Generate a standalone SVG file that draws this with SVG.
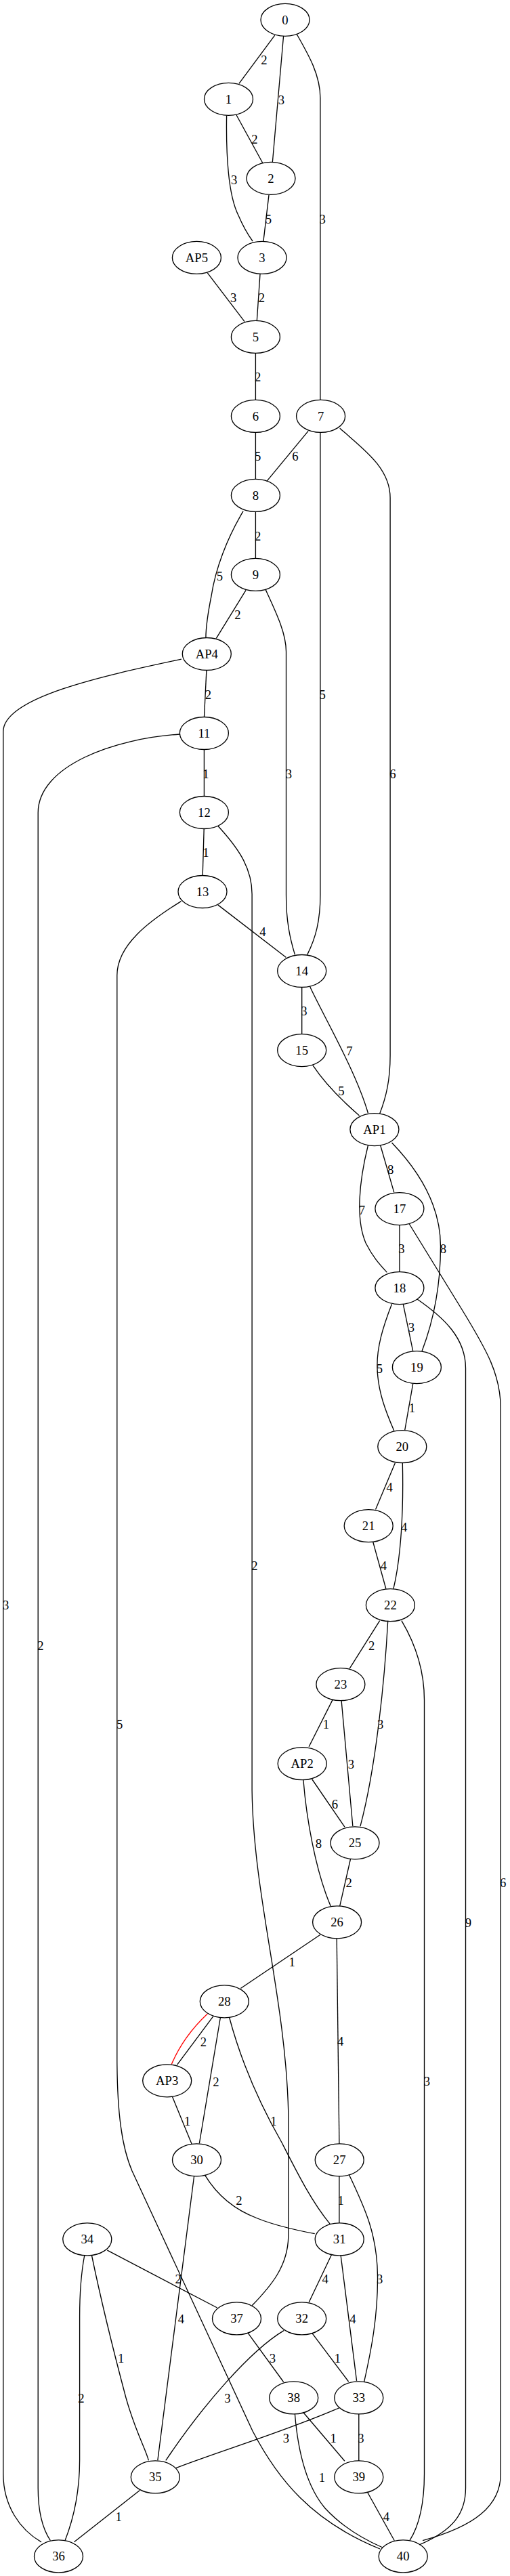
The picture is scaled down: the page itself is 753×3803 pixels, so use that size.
<svg xmlns="http://www.w3.org/2000/svg" width="753" height="3803" viewBox="0 0 753 3803">
<style>
.node ellipse{fill:none;stroke:#000;stroke-width:1.33}
.node text{font-family:"Liberation Serif","Times New Roman",serif;font-size:18.67px;text-anchor:middle;fill:#000}
.edges path{fill:none;stroke:#000;stroke-width:1.33}
.edges path.red{stroke:#ff0000}
.edges text{font-family:"Liberation Serif","Times New Roman",serif;font-size:18.67px;text-anchor:middle;fill:#000}
</style>
<rect x="0" y="0" width="753" height="3803" fill="#fff"/>
<g id="edges" class="edges">
<path d="M405.7,52.2 L352.9,123.3"/><text x="389.8" y="95.2">2</text>
<path d="M418.6,53 L402.3,240"/><text x="415.3" y="154.2">3</text>
<path d="M437.8,49.8 C455,80 472.9,110 472.9,145 L472.9,590.4"/><text x="476.2" y="329.5">3</text>
<path d="M349,169.8 L387.9,240.8"/><text x="375.9" y="212.2">2</text>
<path d="M334.6,170.6 C333.5,240 338,290 352,318 C358,332 365,345 373,356"/><text x="345.7" y="271.5">3</text>
<path d="M397,287.8 L388.9,356.3"/><text x="396.5" y="329.5">5</text>
<path d="M306.3,402.9 L361,474.7"/><text x="344.7" y="446.2">3</text>
<path d="M384,404.9 L379.3,473.5"/><text x="386.5" y="446.2">2</text>
<path d="M377.4,521.4 L377.4,590.4"/><text x="380.7" y="563.2">2</text>
<path d="M377.4,638.4 L377.4,707.4"/><text x="380.7" y="680.2">5</text>
<path d="M455.1,636.3 L393.7,710.6"/><text x="435.9" y="680.2">6</text>
<path d="M472.9,638.4 L472.9,1321 C472.9,1360 466,1385 453.7,1409.4"/><text x="476.2" y="1031.5">5</text>
<path d="M501.7,632.2 C535,662 576.1,690 576.1,735 L576.1,1558 C576.1,1595 570,1620 560.7,1644.1"/><text x="580" y="1148.6">6</text>
<path d="M377.4,755.4 L377.4,824.4"/><text x="380.7" y="797.6">2</text>
<path d="M359.1,754.7 C335,795 318,840 312,880 C306,910 304,925 303.9,941.5"/><text x="324.5" y="856.8">5</text>
<path d="M363,871.4 L319.3,942.4"/><text x="351" y="914.4">2</text>
<path d="M392.2,870.6 C408,905 422.5,935 422.5,962 L422.5,1321 C422.5,1360 428,1385 435.4,1409.4"/><text x="426.3" y="1148.6">3</text>
<path d="M304.9,989.4 L301.5,1058.5"/><text x="307.3" y="1031.5">2</text>
<path d="M267.9,973.1 C150,998 4.8,1030 4.8,1080 L4.8,3652 C4.8,3700 30,3735 61,3752.8"/><text x="8.6" y="2376.4">3</text>
<path d="M301.4,1106.5 L301.4,1175.5"/><text x="303.9" y="1148.6">1</text>
<path d="M265.5,1084 C170,1090 56.2,1130 56.2,1200 L56.2,3673 C56.2,3710 64,3735 74.4,3750.7"/><text x="60" y="2435.6">2</text>
<path d="M301.2,1223.5 L299.2,1292.5"/><text x="303.9" y="1264.6">1</text>
<path d="M321.7,1219.2 C350,1250 372.1,1280 372.1,1320 L372.1,2643 C374,2800 422,2950 425.8,3120 L425.8,3300 C425.8,3345 400,3375 372.1,3403.8"/><text x="375.9" y="2318.4">2</text>
<path d="M321.7,1335.9 L422.5,1413.5"/><text x="387.9" y="1382.1">4</text>
<path d="M267.4,1330.6 C220,1360 172.8,1395 172.8,1440 L172.8,3040 C173,3120 180,3170 195,3205 L373,3589 C410,3660 460,3722 561,3763"/><text x="176.7" y="2551.5">5</text>
<path d="M445.7,1457.5 L445.7,1526.6"/><text x="448.9" y="1499.2">3</text>
<path d="M457.5,1456.3 C475,1495 525,1580 543.4,1643.3"/><text x="516" y="1558.4">7</text>
<path d="M461.8,1572.7 C480,1600 505,1625 530.5,1646.9"/><text x="504" y="1616.8">5</text>
<path d="M561.7,1691 L581.8,1760.4"/><text x="576.6" y="1733.2">8</text>
<path d="M543.4,1691 C530,1745 525,1800 540,1835 C550,1855 560,1866 571.3,1878.4"/><text x="534.3" y="1793.2">7</text>
<path d="M578.5,1687 C620,1730 650.5,1780 650.5,1840 C650.5,1900 640,1950 623,1994.7"/><text x="654.4" y="1850.2">8</text>
<path d="M589.9,1808.6 L589.9,1877.6"/><text x="592.9" y="1850.2">3</text>
<path d="M604,1806.5 L680,1930 C720,1995 739.3,2030 739.3,2080 L739.3,3652 C739.3,3700 700,3730 624.1,3750.7"/><text x="742.7" y="2786.2">6</text>
<path d="M595.3,1925.3 L609.7,1994.7"/><text x="607.3" y="1966.2">3</text>
<path d="M578.5,1925.3 C565,1960 556,1990 557,2020 C558,2055 570,2085 581.8,2112.2"/><text x="560.3" y="2026.6">5</text>
<path d="M616,1918 C655,1945 687.5,1975 687.5,2020 L687.5,3673 C687.5,3710 670,3735 619.3,3756.9"/><text x="691.3" y="2844.6">9</text>
<path d="M609.7,2042.9 L597.7,2111.4"/><text x="608.3" y="2084.6">1</text>
<path d="M583.3,2160 L554.5,2228.6"/><text x="575.1" y="2201.7">4</text>
<path d="M594.3,2160 C596,2230 592,2300 580.9,2345.7"/><text x="596.7" y="2260.9">4</text>
<path d="M550.7,2276.3 L569.9,2345.7"/><text x="566.5" y="2318.4">4</text>
<path d="M560.7,2392.7 L516.1,2463.3"/><text x="548.7" y="2435.6">2</text>
<path d="M572.7,2392.7 C568,2480 555,2610 531.9,2696.3"/><text x="561.7" y="2551.5">3</text>
<path d="M592.9,2392.7 C615,2430 626.5,2470 626.5,2510 L626.5,3652 C626.5,3700 618,3730 604.9,3750.7"/><text x="630.3" y="3078.9">3</text>
<path d="M504.1,2510.6 L520.9,2696.3"/><text x="518.5" y="2610.7">3</text>
<path d="M491.1,2509.4 L456.1,2578.8"/><text x="481.5" y="2551.5">1</text>
<path d="M460.9,2627 L508.9,2697.1"/><text x="494.5" y="2669.9">6</text>
<path d="M447.9,2627.8 C452,2680 465,2760 488.2,2813.9"/><text x="470.5" y="2728.2">8</text>
<path d="M517.5,2744.5 L501.7,2813.9"/><text x="515.1" y="2786.2">2</text>
<path d="M472.9,2856.3 L355.3,2935.5"/><text x="431.1" y="2903.3">1</text>
<path d="M497.2,2861.6 L500.9,3164.8"/><text x="502.6" y="3020.1">4</text>
<path class="red" d="M306.3,2973 C285,2993 265,3020 253.3,3047.5"/>
<path d="M314.9,2976.7 L261.6,3048.2"/><text x="300.5" y="3020.9">2</text>
<path d="M325.5,2978 L294.3,3164.5"/><text x="319" y="3079.5">2</text>
<path d="M338.5,2978 C355,3040 380,3100 416,3163 C440,3210 460,3250 487.3,3283.4"/><text x="404" y="3137.9">1</text>
<path d="M254.5,3095.5 L283,3165"/><text x="276.7" y="3137.9">1</text>
<path d="M302.5,3211.2 C320,3240 345,3262 380,3275 C410,3287 440,3293 464.7,3297.7"/><text x="352.9" y="3254.9">2</text>
<path d="M286.6,3212.5 L232.8,3632.4"/><text x="267.4" y="3430.4">4</text>
<path d="M500.9,3212.8 L500.9,3282"/><text x="503.1" y="3254.9">1</text>
<path d="M515.1,3210 C540,3262 556.9,3300 557.5,3360 C558,3420 548,3470 537.7,3516"/><text x="560.7" y="3371.2">3</text>
<path d="M158.4,3322.2 L320.7,3407"/><text x="263.1" y="3371.2">2</text>
<path d="M135.4,3329.5 C150,3400 170,3480 186,3540 C200,3590 215,3615 219.4,3632.4"/><text x="178.6" y="3487.6">1</text>
<path d="M124.8,3329.5 C119,3360 117.6,3390 117.6,3420 L117.6,3632 C117.6,3680 108,3720 96,3750.7"/><text x="120" y="3546.8">2</text>
<path d="M489.7,3328.3 L456.1,3399"/><text x="480.1" y="3371.2">4</text>
<path d="M503.1,3329.5 L526.6,3514.8"/><text x="520.9" y="3430.4">4</text>
<path d="M365.8,3443.8 L418.6,3516.5"/><text x="402.3" y="3487.6">3</text>
<path d="M460.9,3444.6 L514.6,3516"/><text x="498.3" y="3487.6">1</text>
<path d="M419.1,3440.6 C370,3470 300,3550 244.8,3632.4"/><text x="336" y="3546.8">3</text>
<path d="M447.4,3561 L508.9,3633.2"/><text x="492.1" y="3605.9">1</text>
<path d="M435.4,3563.8 C440,3620 452,3670 480,3703 C505,3730 535,3748 565,3761"/><text x="475.3" y="3664.3">1</text>
<path d="M500.7,3554.8 C420,3590 320,3620 259.2,3643.8"/><text x="422.5" y="3605.9">3</text>
<path d="M529.8,3563.9 L529.8,3632.9"/><text x="532.9" y="3605.9">3</text>
<path d="M206.4,3676.5 L109.5,3752.8"/><text x="175.2" y="3722.2">1</text>
<path d="M542.5,3679.3 L582.3,3750.7"/><text x="570.3" y="3722.2">4</text>
</g>
<g id="n0" class="node"><ellipse cx="421" cy="29.3" rx="36" ry="24"/><text x="421" y="35.5">0</text></g>
<g id="n1" class="node"><ellipse cx="337.5" cy="146.3" rx="36" ry="24"/><text x="337.5" y="152.5">1</text></g>
<g id="n2" class="node"><ellipse cx="400" cy="263.3" rx="36" ry="24"/><text x="400" y="269.5">2</text></g>
<g id="nAP5" class="node"><ellipse cx="290.4" cy="380.4" rx="36" ry="24"/><text x="290.4" y="386.6">AP5</text></g>
<g id="n3" class="node"><ellipse cx="387" cy="380.4" rx="36" ry="24"/><text x="387" y="386.6">3</text></g>
<g id="n5" class="node"><ellipse cx="377.4" cy="497.4" rx="36" ry="24"/><text x="377.4" y="503.6">5</text></g>
<g id="n6" class="node"><ellipse cx="377.4" cy="614.4" rx="36" ry="24"/><text x="377.4" y="620.6">6</text></g>
<g id="n7" class="node"><ellipse cx="473.6" cy="614.4" rx="36" ry="24"/><text x="473.6" y="620.6">7</text></g>
<g id="n8" class="node"><ellipse cx="377.4" cy="731.4" rx="36" ry="24"/><text x="377.4" y="737.6">8</text></g>
<g id="n9" class="node"><ellipse cx="377.4" cy="848.4" rx="36" ry="24"/><text x="377.4" y="854.6">9</text></g>
<g id="nAP4" class="node"><ellipse cx="305.3" cy="965.5" rx="36" ry="24"/><text x="305.3" y="971.7">AP4</text></g>
<g id="n11" class="node"><ellipse cx="301.4" cy="1082.5" rx="36" ry="24"/><text x="301.4" y="1088.7">11</text></g>
<g id="n12" class="node"><ellipse cx="301.4" cy="1199.5" rx="36" ry="24"/><text x="301.4" y="1205.7">12</text></g>
<g id="n13" class="node"><ellipse cx="299" cy="1316.5" rx="36" ry="24"/><text x="299" y="1322.7">13</text></g>
<g id="n14" class="node"><ellipse cx="445.7" cy="1433.5" rx="36" ry="24"/><text x="445.7" y="1439.7">14</text></g>
<g id="n15" class="node"><ellipse cx="445.7" cy="1550.6" rx="36" ry="24"/><text x="445.7" y="1556.8">15</text></g>
<g id="nAP1" class="node"><ellipse cx="552.9" cy="1667.6" rx="36" ry="24"/><text x="552.9" y="1673.8">AP1</text></g>
<g id="n17" class="node"><ellipse cx="589.9" cy="1784.6" rx="36" ry="24"/><text x="589.9" y="1790.8">17</text></g>
<g id="n18" class="node"><ellipse cx="589.9" cy="1901.6" rx="36" ry="24"/><text x="589.9" y="1907.8">18</text></g>
<g id="n19" class="node"><ellipse cx="615.4" cy="2018.6" rx="36" ry="24"/><text x="615.4" y="2024.8">19</text></g>
<g id="n20" class="node"><ellipse cx="593.8" cy="2135.7" rx="36" ry="24"/><text x="593.8" y="2141.9">20</text></g>
<g id="n21" class="node"><ellipse cx="544.2" cy="2252.7" rx="36" ry="24"/><text x="544.2" y="2258.9">21</text></g>
<g id="n22" class="node"><ellipse cx="576.4" cy="2369.7" rx="36" ry="24"/><text x="576.4" y="2375.9">22</text></g>
<g id="n23" class="node"><ellipse cx="502.9" cy="2486.7" rx="36" ry="24"/><text x="502.9" y="2492.9">23</text></g>
<g id="nAP2" class="node"><ellipse cx="446.2" cy="2603.7" rx="36" ry="24"/><text x="446.2" y="2609.9">AP2</text></g>
<g id="n25" class="node"><ellipse cx="524" cy="2720.8" rx="36" ry="24"/><text x="524" y="2727">25</text></g>
<g id="n26" class="node"><ellipse cx="497.6" cy="2837.8" rx="36" ry="24"/><text x="497.6" y="2844">26</text></g>
<g id="n28" class="node"><ellipse cx="331.3" cy="2954.8" rx="36" ry="24"/><text x="331.3" y="2961">28</text></g>
<g id="nAP3" class="node"><ellipse cx="246.7" cy="3071.8" rx="36" ry="24"/><text x="246.7" y="3078">AP3</text></g>
<g id="n30" class="node"><ellipse cx="290.5" cy="3188.8" rx="36" ry="24"/><text x="290.5" y="3195">30</text></g>
<g id="n27" class="node"><ellipse cx="501.2" cy="3188.8" rx="36" ry="24"/><text x="501.2" y="3195">27</text></g>
<g id="n34" class="node"><ellipse cx="128.8" cy="3305.9" rx="36" ry="24"/><text x="128.8" y="3312.1">34</text></g>
<g id="n31" class="node"><ellipse cx="501.2" cy="3305.9" rx="36" ry="24"/><text x="501.2" y="3312.1">31</text></g>
<g id="n37" class="node"><ellipse cx="349.5" cy="3422.9" rx="36" ry="24"/><text x="349.5" y="3429.1">37</text></g>
<g id="n32" class="node"><ellipse cx="445.7" cy="3422.9" rx="36" ry="24"/><text x="445.7" y="3429.1">32</text></g>
<g id="n38" class="node"><ellipse cx="433.7" cy="3539.9" rx="36" ry="24"/><text x="433.7" y="3546.1">38</text></g>
<g id="n33" class="node"><ellipse cx="529.8" cy="3539.9" rx="36" ry="24"/><text x="529.8" y="3546.1">33</text></g>
<g id="n35" class="node"><ellipse cx="229.3" cy="3656.9" rx="36" ry="24"/><text x="229.3" y="3663.1">35</text></g>
<g id="n39" class="node"><ellipse cx="529.8" cy="3656.9" rx="36" ry="24"/><text x="529.8" y="3663.1">39</text></g>
<g id="n36" class="node"><ellipse cx="86.5" cy="3773.9" rx="36" ry="24"/><text x="86.5" y="3780.1">36</text></g>
<g id="n40" class="node"><ellipse cx="595.2" cy="3773.9" rx="36" ry="24"/><text x="595.2" y="3780.1">40</text></g>
</svg>
